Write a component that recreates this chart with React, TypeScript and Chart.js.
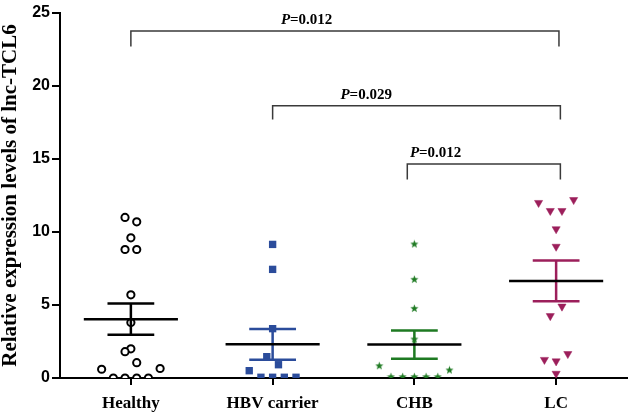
import React, { useEffect, useRef } from "react";
import { Chart, registerables } from "chart.js";

Chart.register(...registerables);

const categories = ["Healthy", "HBV carrier", "CHB", "LC"];
const yTicks = [0, 5, 10, 15, 20, 25];

const healthyValues = [11.0, 10.7, 9.6, 8.8, 8.8, 5.7, 3.8, 2.0, 1.8, 1.05, 0.6, 0.65, 0, 0, 0, 0];
const healthyJitter = [-0.5, 0.5, 0, -0.5, 0.5, 0, 0, 0, -0.5, 0.5, -2.5, 2.5, -1.5, -0.5, 0.5, 1.5];

const hbvValues = [9.15, 7.44, 3.38, 1.46, 0.91, 0.5, 0.05, 0.05, 0.05, 0.05];
const hbvJitter = [0, 0, 0, -0.5, 0.5, -2, -1, 0, 1, 2];

const chbValues = [9.18, 6.76, 4.77, 2.67, 0.84, 0.55, 0.09, 0.09, 0.09, 0.09, 0.09];
const chbJitter = [0, 0, 0, 0, -3, 3, -2, -1, 0, 1, 2];

const lcValues = [12.2, 12.0, 11.45, 11.45, 10.2, 9.0, 4.9, 4.25, 1.65, 1.25, 1.15, 0.3];
const lcJitter = [1.5, -1.5, -0.5, 0.5, 0, 0, 0.5, -0.5, 1, -1, 0, 0];

const groupColors = ["#000000", "#2B4C9B", "#1E7A22", "#9C1F5B"];

// significance brackets
const bracketFrom = [0, 1, 1.95];
const bracketTo = [3.02, 3.03, 3.03];
const bracketY = [23.77, 18.65, 14.66];
const bracketLegY = [22.7, 17.7, 13.6];
const bracketP = ["0.012", "0.029", "0.012"];
const bracketLabelX = [1.74, 2.16, 2.65];

const JITTER_STEP = 0.0825;

function pts(values: number[], jitter: number[], g: number) {
  return values.map((v, i) => ({ x: g + 0.5 + jitter[i] * JITTER_STEP, y: v }));
}

function makeStar(color: string) {
  const c = document.createElement("canvas");
  c.width = 9;
  c.height = 9;
  const ctx = c.getContext("2d")!;
  ctx.fillStyle = color;
  ctx.beginPath();
  const cx = 4.5, cy = 4.8, R = 4.3, r = 1.8;
  for (let k = 0; k < 10; k++) {
    const a = -Math.PI / 2 + (k * Math.PI) / 5;
    const rad = k % 2 === 0 ? R : r;
    const px = cx + Math.cos(a) * rad;
    const py = cy + Math.sin(a) * rad;
    if (k === 0) ctx.moveTo(px, py);
    else ctx.lineTo(px, py);
  }
  ctx.closePath();
  ctx.fill();
  return c;
}

function meanSem(values: number[]) {
  const n = values.length;
  const m = values.reduce((a, b) => a + b, 0) / n;
  const sd = Math.sqrt(values.reduce((a, b) => a + (b - m) * (b - m), 0) / (n - 1));
  return [m, sd / Math.sqrt(n)];
}

const statsPlugin = {
  id: "stats",
  afterDatasetsDraw(chart: any) {
    const ctx = chart.ctx;
    const xs = chart.scales.x;
    const ys = chart.scales.y;
    const groups = [healthyValues, hbvValues, chbValues, lcValues];
    ctx.save();
    groups.forEach((vals, g) => {
      const [m, s] = meanSem(vals);
      const cx = xs.getPixelForValue(g + 0.5);
      const yTop = ys.getPixelForValue(m + s);
      const yBot = ys.getPixelForValue(m - s);
      const yM = ys.getPixelForValue(m);
      const capL = xs.getPixelForValue(g + 0.5 - 0.165);
      const capR = xs.getPixelForValue(g + 0.5 + 0.165);
      const mL = xs.getPixelForValue(g + 0.5 - 0.332);
      const mR = xs.getPixelForValue(g + 0.5 + 0.332);
      ctx.strokeStyle = groupColors[g];
      ctx.lineWidth = 2.5;
      ctx.lineCap = "butt";
      ctx.beginPath();
      ctx.moveTo(cx, yTop);
      ctx.lineTo(cx, yBot);
      ctx.moveTo(capL, yTop);
      ctx.lineTo(capR, yTop);
      ctx.moveTo(capL, yBot);
      ctx.lineTo(capR, yBot);
      ctx.stroke();
      ctx.strokeStyle = "#000";
      ctx.lineWidth = 2.5;
      ctx.beginPath();
      ctx.moveTo(mL, yM);
      ctx.lineTo(mR, yM);
      ctx.stroke();
    });
    ctx.strokeStyle = "#3a3a3a";
    ctx.lineWidth = 1.5;
    bracketFrom.forEach((f, i) => {
      const x1 = xs.getPixelForValue(f + 0.5);
      const x2 = xs.getPixelForValue(bracketTo[i] + 0.5);
      const y = ys.getPixelForValue(bracketY[i]);
      const yl = ys.getPixelForValue(bracketLegY[i]);
      ctx.beginPath();
      ctx.moveTo(x1, yl);
      ctx.lineTo(x1, y);
      ctx.lineTo(x2, y);
      ctx.lineTo(x2, yl);
      ctx.stroke();
      const fItalic = "italic bold 15px 'Liberation Serif'";
      const fBold = "bold 15px 'Liberation Serif'";
      const rest = "=" + bracketP[i];
      ctx.font = fItalic;
      const w1 = ctx.measureText("P").width;
      ctx.font = fBold;
      const w2 = ctx.measureText(rest).width;
      const cx = xs.getPixelForValue(bracketLabelX[i]);
      const start = cx - (w1 + w2) / 2;
      const ty = y - 7;
      ctx.fillStyle = "#000";
      ctx.textBaseline = "alphabetic";
      ctx.textAlign = "left";
      ctx.font = fItalic;
      ctx.fillText("P", start, ty);
      ctx.font = fBold;
      ctx.fillText(rest, start + w1, ty);
    });
    ctx.restore();
  },
};

export default function App() {
  const ref = useRef<HTMLCanvasElement>(null);
  useEffect(() => {
    document.body.style.margin = "0";
    const star = makeStar(groupColors[2]);
    const chart = new Chart(ref.current!, {
      type: "scatter",
      data: {
        datasets: [
          {
            data: pts(healthyValues, healthyJitter, 0),
            pointStyle: "circle",
            pointRadius: 3.6,
            pointBorderWidth: 2,
            pointBorderColor: "#000",
            pointBackgroundColor: "#fff",
          },
          {
            data: pts(hbvValues, hbvJitter, 1),
            pointStyle: "rect",
            pointRadius: 5.2,
            pointBorderWidth: 0,
            pointBackgroundColor: groupColors[1],
            pointBorderColor: groupColors[1],
          },
          {
            data: pts(chbValues, chbJitter, 2),
            pointStyle: star as any,
            pointRadius: 4.5,
          },
          {
            data: pts(lcValues, lcJitter, 3),
            pointStyle: "triangle",
            pointRotation: 180,
            pointRadius: 4.7,
            pointBorderWidth: 0.5,
            pointBackgroundColor: groupColors[3],
            pointBorderColor: groupColors[3],
          },
        ] as any,
      },
      options: {
        animation: false,
        responsive: false,
        maintainAspectRatio: false,
        layout: { padding: { top: 13, right: 6, left: 0, bottom: 0 } },
        plugins: { legend: { display: false }, tooltip: { enabled: false } },
        scales: {
          x: {
            type: "linear",
            min: 0,
            max: 4,
            afterBuildTicks(scale: any) {
              scale.ticks = categories.map((_, i) => ({ value: i + 0.5 }));
            },
            afterFit(scale: any) {
              scale.height = 38;
            },
            border: { display: true, color: "#000", width: 2 },
            grid: {
              drawOnChartArea: false,
              drawTicks: true,
              tickLength: 7,
              color: "#000",
              lineWidth: 2,
            },
            ticks: {
              autoSkip: false,
              maxRotation: 0,
              padding: 8,
              color: "#000",
              font: { family: "'Liberation Serif'", weight: "bold", size: 17 },
              callback: (v: any) => categories[Math.round(Number(v) - 0.5)],
            },
          },
          y: {
            min: 0,
            max: 25,
            afterBuildTicks(scale: any) {
              scale.ticks = yTicks.map((v) => ({ value: v }));
            },
            afterFit(scale: any) {
              scale.width = 60;
            },
            border: { display: true, color: "#000", width: 2 },
            grid: {
              drawOnChartArea: false,
              drawTicks: true,
              tickLength: 8,
              color: "#000",
              lineWidth: 2,
            },
            ticks: {
              padding: 2,
              color: "#000",
              font: { family: "'Liberation Sans'", weight: "bold", size: 16 },
            },
            title: {
              display: true,
              text: "Relative expression levels of lnc-TCL6",
              color: "#000",
              padding: { top: -2, bottom: 0 },
              font: { family: "'Liberation Serif'", weight: "bold", size: 21 },
            },
          },
        },
      },
      plugins: [statsPlugin],
    } as any);
    return () => chart.destroy();
  }, []);
  return (
    <div style={{ width: 633, height: 416 }}>
      <canvas ref={ref} width={633} height={416} style={{ display: "block" }} />
    </div>
  );
}
